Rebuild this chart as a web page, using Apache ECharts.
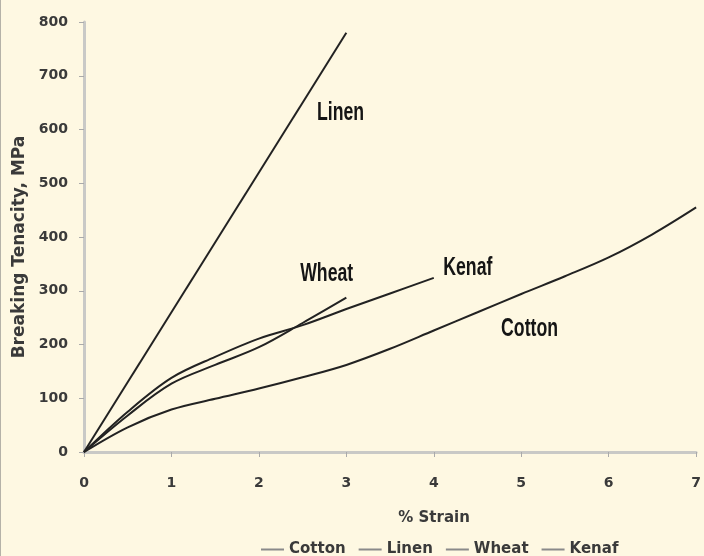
<!DOCTYPE html>
<html><head><meta charset="utf-8">
<script src="https://cdn.jsdelivr.net/npm/echarts@6/dist/echarts.min.js"></script>
<style>html,body{margin:0;padding:0;background:#FEF8E2;}#c{width:704px;height:556px;}</style>
</head><body><div id="c"></div>
<script>
var seriesNames = ['Cotton', 'Linen', 'Wheat', 'Kenaf'];
var cottonData = [[0,0],[0.5,46],[1,79],[1.5,99],[2,118],[2.5,139],[3,162],[3.5,192],[4,226],[4.5,260],[5,294],[5.5,327],[6,362],[6.5,405],[7,455]];
var linenData = [[0,0],[3,780]];
var wheatData = [[0,0],[0.5,68],[1,127],[1.5,162],[2,195],[2.5,240],[3,287]];
var kenafData = [[0,0],[0.5,75],[1,138],[1.5,177],[2,211],[2.5,236],[3,266],[3.5,295],[4,324]];
var labelNames = ['Linen', 'Wheat', 'Kenaf', 'Cotton'];
var labelX = [2.934, 2.775, 4.389, 5.095];
var labelY = [631, 331, 342, 229];
var xTicks = {min:0, max:7, interval:1};
var yTicks = {min:0, max:800, interval:100};

var chart = echarts.init(document.getElementById('c'));
var lineColor = '#222';
var FONT = "'DejaVu Sans', sans-serif";
function mk(name, data) {
  return {name:name, type:'line', data:data, smooth:0.35, showSymbol:false, symbol:'none',
    lineStyle:{color:lineColor, width:2}, itemStyle:{color:lineColor}, z:3};
}
var labelData = labelNames.map(function(n, i){ return [labelX[i], labelY[i], n]; });
var axisLabelStyle = {color:'#3a3a3a', fontWeight:'bold', fontSize:14, fontFamily:FONT};
chart.setOption({
  backgroundColor:'#FEF8E2',
  animation:false,
  grid:{left:84, right:6, top:22, bottom:104, containLabel:false},
  xAxis:{type:'value', min:xTicks.min, max:xTicks.max, interval:xTicks.interval,
    name:'% Strain', nameLocation:'middle', nameGap:59,
    nameTextStyle:{color:'#3a3a3a', fontWeight:'bold', fontSize:15, fontFamily:FONT, padding:[0,0,0,88]},
    axisLine:{show:true, lineStyle:{color:'#c9c9c6', width:3}},
    axisTick:{show:true, length:5, lineStyle:{color:'#aaa', width:1}},
    axisLabel:Object.assign({margin:24}, axisLabelStyle),
    splitLine:{show:false}},
  yAxis:{type:'value', min:yTicks.min, max:yTicks.max, interval:yTicks.interval,
    name:'Breaking Tenacity, MPa', nameLocation:'middle', nameGap:56,
    nameTextStyle:{color:'#3a3a3a', fontWeight:'bold', fontSize:17, fontFamily:FONT, padding:[0,20,0,0]},
    axisLine:{show:true, lineStyle:{color:'#c9c9c6', width:3}},
    axisTick:{show:true, length:5, lineStyle:{color:'#aaa', width:1}},
    axisLabel:Object.assign({margin:16}, axisLabelStyle),
    splitLine:{show:false}},
  legend:{data:seriesNames, left:256, top:537, icon:'rect', itemWidth:23, itemHeight:2, itemGap:13,
    itemStyle:{color:'#8a8a8a'}, textStyle:{color:'#3a3a3a', fontWeight:'bold', fontSize:15, fontFamily:FONT}},
  graphic:[{type:'line', shape:{x1:0.5,y1:0,x2:0.5,y2:556}, style:{stroke:'#b5b2a8', lineWidth:1}}],
  series:[
    mk('Cotton', cottonData), mk('Linen', linenData), mk('Wheat', wheatData), mk('Kenaf', kenafData),
    {type:'custom', name:'labels', data:labelData, silent:true, z:4,
      renderItem:function(params, api){
        var p = api.coord([api.value(0), api.value(1)]);
        return {type:'text', x:p[0], y:p[1], scaleX:0.68, scaleY:1,
          style:{text:labelNames[params.dataIndex], fill:'#151515', align:'center', verticalAlign:'middle',
            font:"bold 26px 'Liberation Sans', Arial, sans-serif"}};
      }}
  ]
});
</script></body></html>
